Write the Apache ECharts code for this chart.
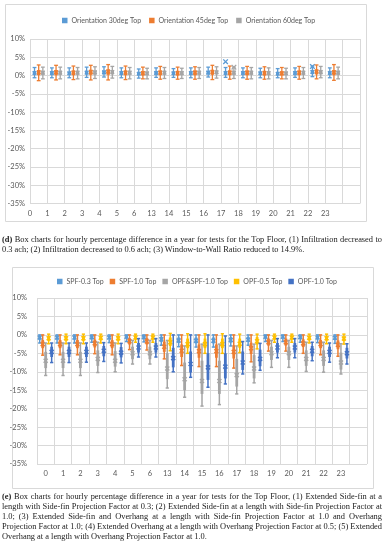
<!DOCTYPE html>
<html><head><meta charset="utf-8">
<script src="https://cdn.jsdelivr.net/npm/echarts@6/dist/echarts.min.js"></script>
<style>
html,body{margin:0;padding:0;background:#fff;}
#c{position:absolute;left:0;top:0;width:384px;height:550px;}
.cap{position:absolute;left:2px;width:380px;font-family:"Liberation Serif","Times New Roman",serif;font-size:8.4px;line-height:10px;color:#1a1a1a;}
.cap div{white-space:nowrap;text-align:justify;text-align-last:justify;}
.cap div.last{text-align-last:left;}
</style></head><body>
<div id="c"></div>
<div class="cap" style="top:235px">
<div><b>(d)</b> Box charts for hourly percentage difference in a year for tests for the Top Floor, (1) Infiltration decreased to</div>
<div class="last">0.3 ach; (2) Infiltration decreased to 0.6 ach; (3) Window-to-Wall Ratio reduced to 14.9%.</div>
</div>
<div class="cap" style="top:492px">
<div><b>(e)</b> Box charts for hourly percentage difference in a year for tests for the Top Floor, (1) Extended Side-fin at a</div>
<div>length with Side-fin Projection Factor at 0.3; (2) Extended Side-fin at a length with Side-fin Projection Factor at</div>
<div>1.0; (3) Extended Side-fin and Overhang at a length with Side-fin Projection Factor at 1.0 and Overhang</div>
<div>Projection Factor at 1.0; (4) Extended Overhang at a length with Overhang Projection Factor at 0.5; (5) Extended</div>
<div class="last">Overhang at a length with Overhang Projection Factor at 1.0.</div>
</div>
<script>
// ---------- data ----------
const hours = ['0','1','2','3','4','5','6','13','14','15','16','17','18','19','20','21','22','23'];
const yTicks = [-35,-30,-25,-20,-15,-10,-5,0,5,10];

// chart (d): rows are [min, q1, q3, max, mean] in %
const orient30 = [
 [-0.6,0.2,1.2,2.2,0.7],[-0.6,0.2,1.2,2.1,0.7],[-0.6,0.2,1.1,2.1,0.6],[-0.5,0.3,1.3,2.3,0.8],
 [-0.4,0.3,1.4,2.4,0.9],[-0.6,0.2,1.2,2.1,0.7],[-0.7,0.1,1.0,1.8,0.5],[-0.5,0.2,1.2,2.1,0.7],
 [-0.5,0.2,1.1,1.9,0.6],[-0.6,0.2,1.2,2.1,0.7],[-0.4,0.3,1.3,2.3,0.8],[-0.5,0.2,1.2,2.2,0.7],
 [-0.6,0.2,1.2,2.1,0.7],[-0.6,0.2,1.1,2.0,0.6],[-0.6,0.1,1.0,1.9,0.5],[-0.5,0.2,1.2,2.1,0.7],
 [-0.3,0.4,1.5,2.6,1.0],[-0.6,0.2,1.2,2.1,0.7]];
const orient45 = [
 [-1.4,0.1,1.5,2.9,0.9],[-1.2,0.1,1.5,2.8,0.9],[-1.1,0.1,1.4,2.6,0.8],[-1.2,0.2,1.6,2.8,1.0],
 [-1.2,0.2,1.7,3.0,1.1],[-1.1,0.1,1.4,2.6,0.8],[-0.9,0.0,1.2,2.3,0.7],[-1.0,0.1,1.4,2.5,0.8],
 [-1.0,0.0,1.3,2.3,0.7],[-1.0,0.1,1.4,2.4,0.8],[-1.1,0.2,1.6,2.8,1.0],[-1.0,0.1,1.4,2.6,0.8],
 [-1.0,0.1,1.4,2.5,0.8],[-1.0,0.0,1.3,2.4,0.7],[-0.9,0.0,1.2,2.2,0.6],[-1.0,0.1,1.4,2.5,0.8],
 [-0.9,0.3,1.7,2.9,1.1],[-1.3,0.1,1.5,3.0,0.9]];
const orient60 = [
 [-0.9,0.2,1.3,2.3,0.8],[-0.9,0.2,1.3,2.3,0.8],[-0.9,0.2,1.3,2.2,0.8],[-0.8,0.2,1.4,2.4,0.9],
 [-0.7,0.3,1.5,2.5,1.0],[-0.9,0.2,1.3,2.2,0.8],[-0.9,0.1,1.1,2.0,0.6],[-0.8,0.2,1.3,2.2,0.8],
 [-0.8,0.1,1.2,2.0,0.7],[-0.8,0.2,1.3,2.2,0.8],[-0.7,0.3,1.4,2.4,0.9],[-0.8,0.2,1.3,2.3,0.8],
 [-0.9,0.2,1.3,2.2,0.8],[-0.9,0.1,1.2,2.1,0.7],[-0.9,0.1,1.1,2.0,0.6],[-0.8,0.2,1.3,2.2,0.8],
 [-0.6,0.3,1.5,2.5,1.0],[-0.9,0.2,1.3,2.3,0.8]];
// extra "x" points: [hour index, value %]
const orient30Extra = [[11,3.8],[16,2.5]];
const orient60Extra = [[11,2.3]];

// chart (e): rows are [min, q1, q3, max, mean] in %
const spf03 = [
 [-2.2,-1.3,-0.3,0,-0.7],[-2.2,-1.3,-0.3,0,-0.7],[-2.2,-1.3,-0.3,0,-0.7],[-2.0,-1.2,-0.3,0,-0.6],
 [-2.1,-1.2,-0.3,0,-0.7],[-1.8,-1.0,-0.2,0,-0.5],[-1.9,-1.1,-0.2,0,-0.6],[-2.8,-1.9,-0.5,0,-1.2],
 [-3.2,-2.2,-0.7,0,-1.5],[-3.3,-2.3,-0.7,0,-1.6],[-3.3,-2.3,-0.7,0,-1.6],[-3.0,-2.1,-0.6,0,-1.4],
 [-2.8,-1.9,-0.5,0,-1.3],[-1.8,-1.0,-0.2,0,-0.5],[-1.8,-1.0,-0.2,0,-0.5],[-2.0,-1.1,-0.3,0,-0.6],
 [-2.1,-1.2,-0.3,0,-0.7],[-2.3,-1.4,-0.4,0,-0.8]];
const spf10 = [
 [-5.5,-3.6,-1.4,0,-2.5],[-5.4,-3.6,-1.4,0,-2.5],[-5.4,-3.6,-1.4,0,-2.5],[-5.1,-3.4,-1.3,0,-2.3],
 [-5.4,-3.6,-1.4,0,-2.5],[-4.0,-2.6,-0.9,0,-1.7],[-4.1,-2.6,-0.9,0,-1.8],[-6.5,-4.6,-1.8,0,-3.2],
 [-8.3,-6.0,-2.6,0,-4.3],[-8.6,-6.2,-2.6,0,-4.4],[-8.6,-6.2,-2.6,0,-4.4],[-9.0,-6.4,-2.8,0,-4.6],
 [-7.3,-5.2,-2.1,0,-3.6],[-4.4,-2.9,-1.0,0,-2.0],[-4.4,-2.9,-1.0,0,-2.0],[-5.0,-3.3,-1.2,0,-2.3],
 [-5.4,-3.6,-1.4,0,-2.5],[-5.8,-3.9,-1.5,0,-2.7]];
const opfSpf10 = [
 [-11.0,-9.0,-4.6,-2.2,-7.0],[-11.0,-9.0,-4.6,-2.2,-7.0],[-11.0,-9.0,-4.6,-2.2,-7.0],[-10.2,-8.4,-4.2,-2.0,-6.5],
 [-10.0,-8.6,-4.4,-2.2,-7.0],[-7.9,-6.6,-3.2,-1.5,-5.0],[-7.9,-6.6,-3.2,-1.5,-5.0],[-14.4,-12.0,-5.0,-1.5,-9.1],
 [-16.9,-15.0,-7.5,-3.0,-12.0],[-19.3,-16.0,-7.0,-2.5,-12.5],[-18.9,-16.0,-7.0,-2.5,-12.5],[-16.0,-14.0,-6.5,-3.0,-10.9],
 [-13.0,-11.8,-5.5,-2.5,-9.1],[-8.8,-6.8,-3.2,-1.5,-5.0],[-8.8,-6.8,-3.2,-1.5,-5.0],[-9.9,-8.4,-4.2,-2.0,-6.5],
 [-10.1,-8.4,-4.2,-2.0,-6.5],[-10.6,-9.4,-4.8,-2.4,-7.5]];
const opf05 = [
 [-2.4,-1.6,-0.3,0.2,-0.9],[-2.4,-1.6,-0.3,0.2,-0.9],[-2.4,-1.6,-0.3,0.2,-0.9],[-2.2,-1.5,-0.3,0.2,-0.8],
 [-2.4,-1.6,-0.3,0.2,-0.9],[-2.0,-1.3,-0.2,0.2,-0.7],[-2.0,-1.3,-0.2,0.2,-0.7],[-4.3,-3.0,-0.7,0.4,-2.0],
 [-5.0,-3.6,-1.0,0.3,-2.5],[-5.0,-3.6,-1.0,0.3,-2.5],[-5.0,-3.6,-1.0,0.3,-2.5],[-4.8,-3.5,-1.0,0.2,-2.4],
 [-3.8,-2.6,-0.6,0.2,-1.7],[-2.0,-1.3,-0.2,0.2,-0.7],[-2.0,-1.3,-0.2,0.2,-0.7],[-2.2,-1.5,-0.3,0.2,-0.8],
 [-2.4,-1.6,-0.3,0.2,-0.9],[-2.5,-1.7,-0.4,0.2,-1.0]];
const opf10 = [
 [-7.5,-6.0,-3.2,-2.2,-4.6],[-7.5,-6.0,-3.2,-2.2,-4.6],[-7.4,-6.0,-3.2,-2.2,-4.6],[-7.2,-5.8,-3.0,-2.1,-4.3],
 [-7.6,-6.1,-3.3,-2.3,-4.8],[-6.0,-4.8,-2.2,-1.0,-3.4],[-6.0,-4.8,-2.2,-1.0,-3.4],[-10.0,-8.8,-3.5,0,-6.3],
 [-11.5,-10.2,-4.5,0,-7.9],[-14.2,-12.2,-5.0,0,-8.8],[-13.3,-11.8,-5.0,-0.3,-8.6],[-10.6,-9.5,-4.5,-1.8,-7.5],
 [-9.6,-8.5,-4.0,-2.3,-6.5],[-6.2,-4.8,-2.2,-1.0,-3.4],[-6.2,-4.8,-2.2,-1.0,-3.4],[-7.0,-5.8,-3.0,-2.0,-4.3],
 [-7.4,-6.0,-3.2,-2.2,-4.6],[-7.9,-6.4,-3.5,-2.4,-5.0]];

const seriesD = [
  {name:'Orientation 30deg Top', color:'#5B9BD5', rows:orient30, extra:orient30Extra},
  {name:'Orientation 45deg Top', color:'#ED7D31', rows:orient45, extra:[]},
  {name:'Orientation 60deg Top', color:'#A5A5A5', rows:orient60, extra:orient60Extra}
];
const seriesE = [
  {name:'SPF-0.3 Top', color:'#5B9BD5', rows:spf03},
  {name:'SPF-1.0 Top', color:'#ED7D31', rows:spf10},
  {name:'OPF&SPF-1.0 Top', color:'#A5A5A5', rows:opfSpf10},
  {name:'OPF-0.5 Top', color:'#FFC000', rows:opf05},
  {name:'OPF-1.0 Top', color:'#4472C4', rows:opf10}
];

// ---------- rendering ----------
const FONT = 'Lato, "Noto Sans", sans-serif';
const GRID = '#D9D9D9';
const TXT = '#595959';

function boxRenderer(k, n, groupFrac, boxW, capW, mk, lw) {
  return function (params, api) {
    const ci = api.value(0);
    const band = api.size([1, 0])[0];
    const slot = band * groupFrac / n;
    const x = api.coord([ci, 0])[0] + (k - (n - 1) / 2) * slot;
    const yMin = api.coord([ci, api.value(1)])[1];
    const yQ1 = api.coord([ci, api.value(2)])[1];
    const yQ3 = api.coord([ci, api.value(3)])[1];
    const yMax = api.coord([ci, api.value(4)])[1];
    const yMean = api.coord([ci, api.value(5)])[1];
    const c = api.visual('color');
    const ls = {stroke: c, lineWidth: lw};
    return {type: 'group', children: [
      {type: 'line', shape: {x1: x, y1: yMax, x2: x, y2: yMin}, style: ls},
      {type: 'line', shape: {x1: x - capW / 2, y1: yMax, x2: x + capW / 2, y2: yMax}, style: ls},
      {type: 'line', shape: {x1: x - capW / 2, y1: yMin, x2: x + capW / 2, y2: yMin}, style: ls},
      {type: 'rect', shape: {x: x - boxW / 2, y: Math.min(yQ1, yQ3), width: boxW, height: Math.abs(yQ1 - yQ3)}, style: {fill: c}},
      {type: 'line', shape: {x1: x - mk, y1: yMean - mk, x2: x + mk, y2: yMean + mk}, style: ls},
      {type: 'line', shape: {x1: x - mk, y1: yMean + mk, x2: x + mk, y2: yMean - mk}, style: ls}
    ]};
  };
}
function crossRenderer(k, n, groupFrac, mk, lw) {
  return function (params, api) {
    const ci = api.value(0);
    const band = api.size([1, 0])[0];
    const slot = band * groupFrac / n;
    const x = api.coord([ci, 0])[0] + (k - (n - 1) / 2) * slot;
    const y = api.coord([ci, api.value(1)])[1];
    const ls = {stroke: api.visual('color'), lineWidth: lw};
    return {type: 'group', children: [
      {type: 'line', shape: {x1: x - mk, y1: y - mk, x2: x + mk, y2: y + mk}, style: ls},
      {type: 'line', shape: {x1: x - mk, y1: y + mk, x2: x + mk, y2: y - mk}, style: ls}
    ]};
  };
}

const cats = hours.concat(['']); // 19th empty slot as in the reference
const labelCatsD = hours.concat(['', '']);

const series = [];
seriesD.forEach((s, k) => {
  series.push({
    type: 'custom', name: s.name, xAxisIndex: 0, yAxisIndex: 0, color: s.color,
    itemStyle: {color: s.color},
    renderItem: boxRenderer(k, seriesD.length, 0.72, 3.4, 3.8, 1.8, 1.3),
    encode: {x: 0, y: [1, 2, 3, 4, 5]},
    data: s.rows.map((r, i) => [i].concat(r))
  });
  if (s.extra.length) series.push({
    type: 'custom', name: s.name, xAxisIndex: 0, yAxisIndex: 0, color: s.color,
    itemStyle: {color: s.color},
    renderItem: crossRenderer(k, seriesD.length, 0.72, 2.3, 1.3),
    encode: {x: 0, y: 1},
    data: s.extra.map(e => [e[0], e[1]])
  });
});
seriesE.forEach((s, k) => {
  series.push({
    type: 'custom', name: s.name, xAxisIndex: 2, yAxisIndex: 1, color: s.color,
    itemStyle: {color: s.color},
    renderItem: boxRenderer(k, seriesE.length, 0.86, 2.8, 3.2, 2.0, 1.5),
    encode: {x: 0, y: [1, 2, 3, 4, 5]},
    data: s.rows.map((r, i) => [i].concat(r))
  });
});

function yAxis(grid, margin) {
  return {
    type: 'value', gridIndex: grid, min: yTicks[0], max: yTicks[yTicks.length - 1], interval: 5,
    axisLine: {show: false}, axisTick: {show: false},
    axisLabel: {formatter: '{value}%', color: TXT, fontSize: 7.5, fontFamily: FONT, margin: margin},
    splitLine: {lineStyle: {color: GRID, width: 1}}
  };
}
function legend(items, left, top, gap) {
  return {
    data: items.map(s => ({name: s.name, icon: 'rect'})),
    left: left, top: top, itemWidth: 5.5, itemHeight: 5.5, itemGap: gap, padding: 0,
    textStyle: {color: TXT, fontSize: 7, fontFamily: FONT, padding: [0, 0, 0, -1]},
    selectedMode: false
  };
}

const chart = echarts.init(document.getElementById('c'));
chart.setOption({
  animation: false,
  graphic: [
    {type: 'rect', shape: {x: 5.5, y: 4.5, width: 361, height: 217}, style: {fill: 'none', stroke: '#D9D9D9', lineWidth: 1}, silent: true},
    {type: 'rect', shape: {x: 12.5, y: 267.5, width: 361, height: 221}, style: {fill: 'none', stroke: '#D9D9D9', lineWidth: 1}, silent: true}
  ],
  legend: [legend(seriesD, 62, 17, 8), legend(seriesE, 57, 278, 6)],
  grid: [
    {left: 30, top: 39, width: 330, height: 164.5},
    {left: 37, top: 298, width: 330, height: 166}
  ],
  xAxis: [
    {type: 'category', gridIndex: 0, data: cats, boundaryGap: true,
     axisLine: {show: false}, axisTick: {show: false}, axisLabel: {show: false},
     splitLine: {show: true, interval: 0, lineStyle: {color: GRID}}},
    {type: 'category', gridIndex: 0, data: labelCatsD, boundaryGap: false, position: 'bottom',
     axisLine: {show: false}, axisTick: {show: false}, splitLine: {show: false},
     axisLabel: {interval: 0, color: TXT, fontSize: 7.5, fontFamily: FONT, margin: 6}},
    {type: 'category', gridIndex: 1, data: cats, boundaryGap: true,
     axisLine: {show: false}, axisTick: {show: false},
     axisLabel: {interval: 0, color: TXT, fontSize: 7.5, fontFamily: FONT, margin: 6},
     splitLine: {show: true, interval: 0, lineStyle: {color: GRID}}}
  ],
  yAxis: [yAxis(0, 5), yAxis(1, 10)],
  series: series
});
</script>
</body></html>
